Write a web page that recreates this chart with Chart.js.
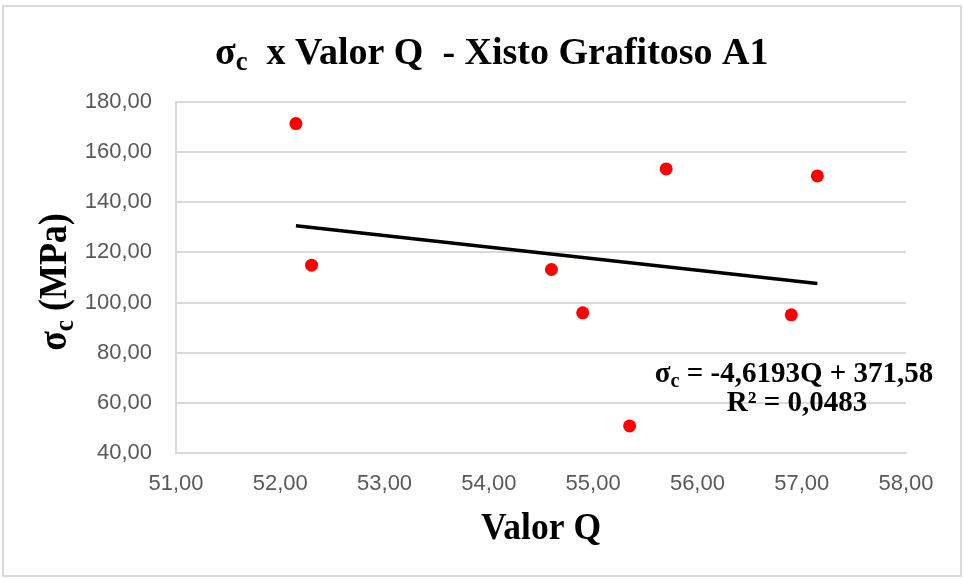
<!DOCTYPE html>
<html>
<head>
<meta charset="utf-8">
<script src="https://cdn.jsdelivr.net/npm/chart.js@4"></script>
<style>
  body { margin: 0; background: #fff; }
  #frame { position: absolute; left: 2px; top: 5px; width: 960px; height: 572px; box-sizing: border-box; border: 2px solid #d9d9d9; }
  #wrap { position: absolute; left: 0; top: 0; width: 963px; height: 579px; }
</style>
</head>
<body>
<div id="frame"></div>
<div id="wrap"><canvas id="chart" width="963" height="579"></canvas></div>
<script>
// Valor Q vs sigma_c readings
const valorQ = [52.15, 52.30, 54.60, 54.90, 55.35, 55.70, 56.90, 57.15];
const sigmaC = [171.4, 114.9, 113.2, 95.9, 50.8, 153.3, 95.1, 150.5];

// linear trend shown on the chart
const trendSlope = -4.6193;
const trendIntercept = 371.58;
const eqLine1 = " = -4,6193Q + 371,58";
const eqLine2 = "R² = 0,0483";

const xTicks = [51, 52, 53, 54, 55, 56, 57, 58];
const yTicks = [40, 60, 80, 100, 120, 140, 160, 180];

const points = valorQ.map((q, i) => ({ x: q, y: sigmaC[i] }));
const qMin = Math.min(...valorQ), qMax = Math.max(...valorQ);
const trend = [qMin, qMax].map(q => ({ x: q, y: trendSlope * q + trendIntercept }));

const fmt = v => v.toFixed(2).replace(".", ",");
const serif = "'Liberation Serif', 'Times New Roman', serif";
const tickFont = { family: "'Liberation Sans', Arial, sans-serif", size: 22 };

// draws text with subscript parts: parts = [[text, isSub], ...]
function drawRich(ctx, parts, x, y, size, sx, align) {
  const subSize = size * 0.7;
  let total = 0;
  parts.forEach(p => {
    ctx.font = "bold " + (p[1] ? subSize : size) + "px " + serif;
    total += ctx.measureText(p[0]).width;
  });
  let cur = align === "center" ? -total / 2 : 0;
  ctx.save();
  ctx.translate(x, y);
  ctx.scale(sx, 1);
  ctx.fillStyle = "#000";
  ctx.textBaseline = "alphabetic";
  ctx.textAlign = "left";
  parts.forEach(p => {
    ctx.font = "bold " + (p[1] ? subSize : size) + "px " + serif;
    ctx.fillText(p[0], cur, p[1] ? size * 0.17 : 0);
    cur += ctx.measureText(p[0]).width;
  });
  ctx.restore();
}

const textPlugin = {
  id: "texts",
  afterDraw(chart) {
    const ctx = chart.ctx;
    const area = chart.chartArea;
    // title
    drawRich(ctx, [["σ", 0], ["c", 1], ["  x Valor Q  - Xisto Grafitoso A1", 0]], 215, 64, 38, 1, "left");
    // x title
    drawRich(ctx, [["Valor Q", 0]], (area.left + area.right) / 2, 539, 37, 0.96, "center");
    // y title, rotated
    ctx.save();
    ctx.translate(66, 282);
    ctx.rotate(-Math.PI / 2);
    drawRich(ctx, [["σ", 0], ["c", 1], [" (MPa)", 0]], 0, 0, 40, 0.9, "center");
    ctx.restore();
    // equation
    drawRich(ctx, [["σ", 0], ["c", 1], [eqLine1, 0]], 794, 382, 29, 1, "center");
    drawRich(ctx, [[eqLine2, 0]], 797, 411, 29, 1, "center");
  }
};

new Chart(document.getElementById("chart"), {
  type: "scatter",
  data: {
    datasets: [
      {
        label: "σc",
        data: points,
        backgroundColor: "#ff0000",
        borderWidth: 0,
        pointRadius: 6.5,
        pointHoverRadius: 6.5
      },
      {
        type: "line",
        label: "Linear",
        data: trend,
        borderColor: "#000",
        borderWidth: 3.5,
        pointRadius: 0,
        fill: false
      }
    ]
  },
  options: {
    responsive: false,
    animation: false,
    layout: { padding: { top: 102, right: 57, bottom: 0, left: 0 } },
    plugins: {
      legend: { display: false },
      tooltip: { enabled: false }
    },
    scales: {
      x: {
        type: "linear",
        min: 51,
        max: 58,
        afterBuildTicks: s => { s.ticks = xTicks.map(v => ({ value: v })); },
        afterFit: s => { s.height = 126; },
        grid: { display: false, drawTicks: false },
        border: { display: true, color: "#d9d9d9", width: 2 },
        ticks: { padding: 18, color: "#595959", font: tickFont, callback: fmt }
      },
      y: {
        min: 40,
        max: 180,
        afterBuildTicks: s => { s.ticks = yTicks.map(v => ({ value: v })); },
        afterFit: s => { s.width = 176; },
        grid: { color: "#d9d9d9", lineWidth: 2, drawTicks: false },
        border: { display: true, color: "#d9d9d9", width: 2 },
        ticks: { padding: 24, color: "#595959", font: tickFont, callback: fmt }
      }
    }
  },
  plugins: [textPlugin]
});
</script>
</body>
</html>
